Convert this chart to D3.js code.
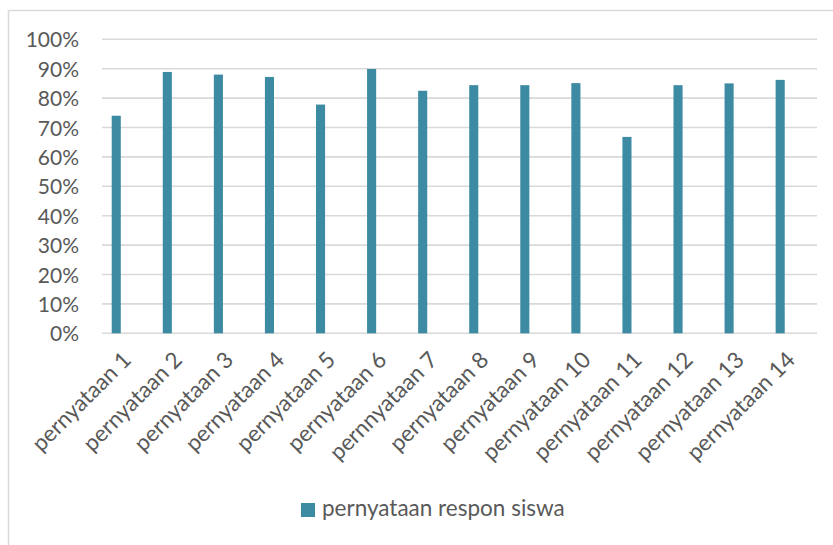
<!DOCTYPE html>
<html>
<head>
<meta charset="utf-8">
<script src="https://cdn.jsdelivr.net/npm/d3@7"></script>
<style>
  html, body { margin: 0; padding: 0; background: #fff; }
  svg { display: block; }
  text { font-family: Lato, "Open Sans", sans-serif; fill: #595959; }
</style>
</head>
<body>
<svg id="chart" width="833" height="545"></svg>
<script>
// Survey results: share of positive student responses per statement
const categories = [
  "pernyataan 1", "pernyataan 2", "pernyataan 3", "pernyataan 4",
  "pernyataan 5", "pernyataan 6", "pernnyataan 7", "pernyataan 8",
  "pernyataan 9", "pernyataan 10", "pernyataan 11", "pernyataan 12",
  "pernyataan 13", "pernyataan 14"
];
const seriesName = "pernyataan respon siswa";
const values = [0.74, 0.889, 0.88, 0.872, 0.778, 0.899, 0.825, 0.844, 0.844, 0.851, 0.668, 0.844, 0.85, 0.862];
const yTicks = [0, 0.1, 0.2, 0.3, 0.4, 0.5, 0.6, 0.7, 0.8, 0.9, 1.0];

const W = 833, H = 545;
const plot = { left: 102, right: 817, top: 39.3, bottom: 333.3 };
const barColor = "#3d8ba3";
const gridColor = "#d9d9d9";

const svg = d3.select("#chart");

// chart area outline (top and left edges visible)
svg.append("rect")
  .attr("x", 8.5).attr("y", 10.5)
  .attr("width", W + 20).attr("height", H + 20)
  .attr("fill", "none").attr("stroke", gridColor).attr("stroke-width", 1.5);

const x = d3.scaleBand().domain(categories).range([plot.left, plot.right]).padding(0);
const y = d3.scaleLinear().domain([0, 1]).range([plot.bottom, plot.top]);

// horizontal gridlines
svg.append("g")
  .selectAll("line")
  .data(yTicks)
  .join("line")
  .attr("x1", plot.left).attr("x2", plot.right)
  .attr("y1", d => y(d)).attr("y2", d => y(d))
  .attr("stroke", gridColor).attr("stroke-width", 1.6);

// y axis labels
const yAxis = d3.axisLeft(y).tickValues(yTicks).tickFormat(d3.format(".0%")).tickSize(0).tickPadding(0);
const gy = svg.append("g").attr("transform", `translate(${plot.left - 23},0)`).call(yAxis);
gy.select(".domain").remove();
gy.selectAll("text")
  .attr("font-size", 21).attr("font-family", "Lato, sans-serif").attr("fill", "#595959")
  .attr("dy", "0.36em");

// bars sit in the first slot of each category band
const bw = x.bandwidth();
svg.append("g")
  .selectAll("rect")
  .data(values)
  .join("rect")
  .attr("x", (d, i) => x(categories[i]) + bw * 0.19)
  .attr("width", bw * 0.178)
  .attr("y", d => y(d))
  .attr("height", d => y(0) - y(d))
  .attr("fill", barColor);

// category labels, rotated
const xAxis = d3.axisBottom(x).tickSize(0).tickPadding(0);
const gx = svg.append("g").attr("transform", `translate(0,${plot.bottom})`).call(xAxis);
gx.select(".domain").remove();
gx.selectAll("text")
  .attr("font-size", 22.5).attr("font-family", "Lato, sans-serif").attr("fill", "#595959")
  .attr("text-anchor", "end")
  .attr("dy", null).attr("y", null)
  .attr("transform", "translate(5,28) rotate(-45)");

// legend
const legend = svg.append("g");
legend.append("rect")
  .attr("x", 301).attr("y", 503).attr("width", 14).attr("height", 14)
  .attr("fill", barColor);
legend.append("text")
  .attr("x", 322).attr("y", 516)
  .attr("font-size", 22.5)
  .text(seriesName);
</script>
</body>
</html>
